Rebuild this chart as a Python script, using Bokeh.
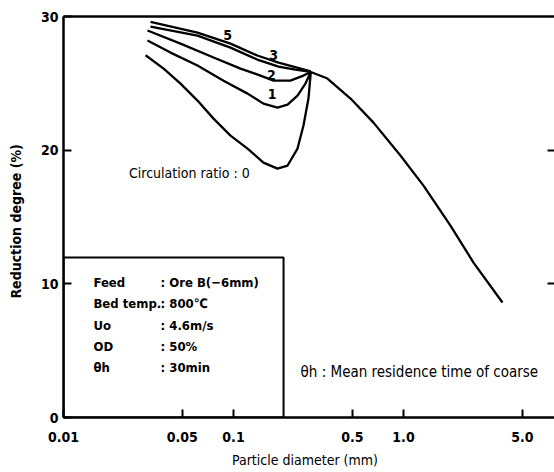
from bokeh.plotting import figure
from bokeh.models import (FixedTicker, LinearAxis, BoxAnnotation, Range1d, ColumnDataSource)
from bokeh.core.properties import value
from bokeh.embed import file_html
from bokeh.resources import INLINE

FONT = "DejaVu Sans Condensed"

# ---- data (particle diameter in mm, reduction degree in %) ----
d0 = [0.0304, 0.0388, 0.0488, 0.0614, 0.0763, 0.096, 0.121, 0.150, 0.1815, 0.208, 0.238, 0.258, 0.276, 0.285]
r0 = [27.1, 26.1, 24.98, 23.71, 22.36, 21.09, 20.12, 19.07, 18.62, 18.85, 20.12, 21.84, 23.86, 25.85]

d1 = [0.0312, 0.0426, 0.0614, 0.0874, 0.121, 0.150, 0.1815, 0.208, 0.238, 0.265, 0.285]
r1 = [28.2, 27.3, 26.33, 25.2, 24.23, 23.48, 23.19, 23.41, 24.08, 24.98, 25.85]

d2 = [0.0312, 0.0488, 0.0763, 0.110, 0.144, 0.172, 0.216, 0.258, 0.285]
r2 = [28.95, 27.97, 26.93, 26.1, 25.58, 25.2, 25.2, 25.58, 25.85]

d3 = [0.0325, 0.0614, 0.096, 0.138, 0.184, 0.231, 0.285]
r3 = [29.24, 28.57, 27.67, 26.78, 26.25, 26.03, 25.85]

d5 = [0.0325, 0.0614, 0.096, 0.138, 0.184, 0.285]
r5 = [29.6, 28.8, 27.97, 27.08, 26.55, 25.9]

# common branch for coarse particles
dc = [0.285, 0.357, 0.488, 0.666, 0.959, 1.311, 1.889, 2.58, 3.82]
rc = [25.85, 25.36, 23.86, 22.06, 19.6, 17.35, 14.36, 11.59, 8.6]

x_ticks = [0.01, 0.05, 0.1, 0.5, 1.0, 5.0]
x_tick_labels = ["0.01", "0.05", "0.1", "0.5", "1.0", "5.0"]
y_ticks = [0, 10, 20, 30]

curve_labels = ["5", "3", "2", "1"]
curve_label_x = [0.0922, 0.172, 0.167, 0.169]
curve_label_y = [28.6, 27.1, 25.6, 24.2]

cond_names = ["Feed", "Bed temp.", "Uo", "OD", "θh"]
cond_values = [": Ore B(−6mm)", ": 800℃", ": 4.6m/s", ": 50%", ": 30min"]
cond_y = [10.1, 8.53, 6.88, 5.31, 3.74]

p = figure(width=554, height=472, x_axis_type="log",
           x_range=Range1d(0.01, 7.73), y_range=Range1d(0, 30),
           output_backend="svg", toolbar_location=None,
           min_border_left=63, min_border_top=16, min_border_bottom=55,
           min_border_right=0, outline_line_color=None,
           background_fill_color="white", border_fill_color="white")
p.xgrid.visible = False
p.ygrid.visible = False

for xs, ys in [(d0, r0), (d1, r1), (d2, r2), (d3, r3), (d5, r5), (dc, rc)]:
    p.line(xs, ys, line_color="black", line_width=2.3, line_join="round")

# axes
xa = p.xaxis[0]
xa.ticker = FixedTicker(ticks=x_ticks)
xa.major_label_overrides = {t: s for t, s in zip(x_ticks, x_tick_labels)}
ya = p.yaxis[0]
ya.ticker = FixedTicker(ticks=y_ticks)
for ax in (xa, ya):
    ax.axis_line_width = 2.5
    ax.axis_line_color = "black"
    ax.major_tick_in = 8
    ax.major_tick_out = 0
    ax.major_tick_line_width = 2
    ax.minor_tick_line_color = None
    ax.major_label_text_font = FONT
    ax.major_label_text_font_style = "bold"
    ax.major_label_text_font_size = "14px"
    ax.major_label_text_color = "black"
    ax.axis_label_text_font = FONT
    ax.axis_label_text_font_size = "14px"
    ax.axis_label_text_color = "black"
xa.major_label_standoff = 14
xa.axis_label = "Particle diameter   (mm)"
xa.axis_label_standoff = 7
xa.axis_label_text_font_style = "normal"
ya.major_label_standoff = 5
ya.axis_label = "Reduction degree   (%)"
ya.axis_label_standoff = 14
ya.axis_label_text_font_style = "bold"

# top frame line
top = LinearAxis(ticker=FixedTicker(ticks=[]), axis_line_width=2.5,
                 major_tick_out=0, major_tick_in=0, minor_tick_line_color=None)
p.add_layout(top, "above")
# right side inward ticks
right = LinearAxis(ticker=FixedTicker(ticks=[10, 20]), axis_line_color=None,
                   major_label_overrides={10: "", 20: ""}, major_label_standoff=0,
                   major_tick_out=0, major_tick_in=7, major_tick_line_width=2,
                   minor_tick_line_color=None)
p.add_layout(right, "right")

# condition box
p.add_layout(BoxAnnotation(left=0.01, right=0.197, bottom=0, top=11.97,
                           fill_color="white", fill_alpha=1.0,
                           line_color="black", line_alpha=1.0, line_width=2, level="underlay"))

src = ColumnDataSource(dict(x=[0.015] * len(cond_names), y=cond_y, t=cond_names))
p.text("x", "y", text="t", source=src, text_font=value(FONT), text_font_style="bold",
       text_font_size="13px", text_baseline="middle", text_align="left", text_color="black")
src2 = ColumnDataSource(dict(x=[0.0372] * len(cond_values), y=cond_y, t=cond_values))
p.text("x", "y", text="t", source=src2, text_font=value(FONT), text_font_style="bold",
       text_font_size="13px", text_baseline="middle", text_align="left", text_color="black")

# curve labels
src3 = ColumnDataSource(dict(x=curve_label_x, y=curve_label_y, t=curve_labels))
p.text("x", "y", text="t", source=src3, text_font=value(FONT), text_font_style="bold",
       text_font_size="14px", text_baseline="middle", text_align="center", text_color="black")

# annotations
p.text(x=[0.055], y=[18.3], text=["Circulation ratio : 0"], text_font=value(FONT),
       text_font_size="14px", text_baseline="middle", text_align="center", text_color="black")
p.text(x=[0.248], y=[3.37], text=["θh : Mean residence time of coarse"], text_font=value(FONT),
       text_font_size="15px", text_baseline="middle", text_align="left", text_color="black")

open("out.html", "w").write(file_html(p, INLINE))
